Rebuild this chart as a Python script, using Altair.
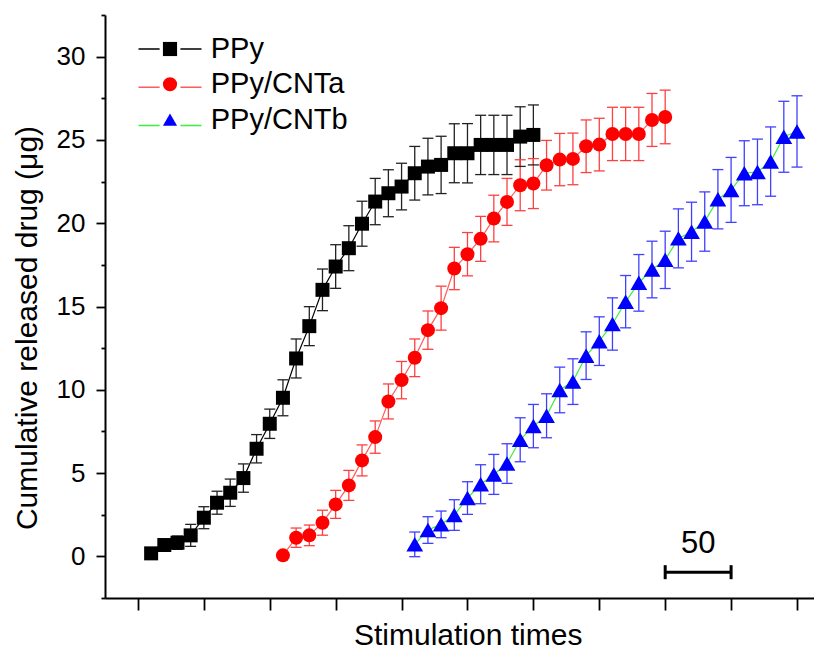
import altair as alt
import pandas as pd

FONT = "Liberation Sans"

series_names = ["PPy", "PPy/CNTa", "PPy/CNTb"]

ppy_x = [10, 20, 30, 40, 50, 60, 70, 80, 90, 100, 110, 120, 130, 140, 150,
         160, 170, 180, 190, 200, 210, 220, 230, 240, 250, 260, 270, 280, 290, 300]
ppy_y = [0.18, 0.68, 0.82, 1.26, 2.32, 3.22, 3.82, 4.70, 6.46, 7.96, 9.52, 11.88, 13.82, 16.00, 17.40,
         18.50, 19.97, 21.30, 21.80, 22.20, 23.00, 23.40, 23.50, 24.20, 24.20, 24.70, 24.70, 24.70, 25.20, 25.30]
ppy_err = [0.00, 0.10, 0.40, 0.66, 0.66, 0.69, 0.82, 0.85, 0.85, 0.88, 1.08, 1.17, 1.17, 1.25, 1.31,
           1.35, 1.35, 1.39, 1.41, 1.40, 1.61, 1.70, 1.72, 1.77, 1.78, 1.78, 1.78, 1.78, 1.79, 1.80]

cnta_x = [110, 120, 130, 140, 150, 160, 170, 180, 190, 200, 210, 220, 230, 240, 250,
          260, 270, 280, 290, 300, 310, 320, 330, 340, 350, 360, 370, 380, 390, 400]
cnta_y = [0.06, 1.12, 1.26, 2.02, 3.12, 4.26, 5.76, 7.16, 9.30, 10.58, 11.92, 13.58, 14.90, 17.28, 18.14,
          19.06, 20.28, 21.28, 22.28, 22.38, 23.48, 23.82, 23.86, 24.62, 24.72, 25.36, 25.36, 25.36, 26.20, 26.38]
cnta_err = [0.00, 0.58, 0.62, 0.75, 0.84, 0.90, 0.93, 0.97, 1.05, 1.12, 1.13, 1.15, 1.32, 1.27, 1.30,
            1.35, 1.40, 1.41, 1.53, 1.50, 1.49, 1.57, 1.55, 1.58, 1.58, 1.60, 1.60, 1.60, 1.59, 1.61]

cntb_x = [210, 220, 230, 240, 250, 260, 270, 280, 290, 300, 310, 320, 330, 340, 350,
          360, 370, 380, 390, 400, 410, 420, 430, 440, 450, 460, 470, 480, 490, 500]
cntb_y = [0.72, 1.58, 1.92, 2.48, 3.50, 4.33, 4.92, 5.57, 7.00, 7.82, 8.44, 9.99, 10.49, 12.05, 12.92,
          13.95, 15.29, 16.42, 17.22, 17.80, 19.09, 19.49, 20.10, 21.44, 22.00, 23.00, 23.08, 23.70, 25.19, 25.51]
cntb_err = [0.74, 0.80, 0.80, 0.92, 0.98, 1.17, 1.20, 1.19, 1.32, 1.30, 1.32, 1.37, 1.37, 1.43, 1.46,
            1.57, 1.57, 1.70, 1.70, 1.72, 1.77, 1.77, 1.78, 1.78, 1.95, 1.95, 1.97, 2.08, 2.13, 2.14]

x_tick_values = [0, 25, 50, 75, 100, 125, 150, 175, 200, 225, 250, 275, 300, 325, 350,
                 375, 400, 425, 450, 475, 500]
y_tick_values = [-2.5, 0, 2.5, 5, 7.5, 10, 12.5, 15, 17.5, 20, 22.5, 25, 27.5, 30, 32.5]

scale_bar = {"start": 400, "length": 50, "y": -0.95, "label": "50", "label_y": 0.72}

line_colors = ["#000000", "#ff5c5c", "#3cf03c"]
err_colors = ["#222222", "#ff4040", "#4040ff"]
fill_colors = ["#000000", "#ff0000", "#0000ff"]
shapes = ["square", "circle", "triangle-up"]
MARKER_SIZE = 196
TRIANGLE_SIZE = 280
legend_line_sizes = [3969, 3969, 3969]
LEGEND_LINE = "M-1,0H-0.33M0.33,0H1"

rows = []
for name, xs, ys, es in [("PPy", ppy_x, ppy_y, ppy_err),
                         ("PPy/CNTa", cnta_x, cnta_y, cnta_err),
                         ("PPy/CNTb", cntb_x, cntb_y, cntb_err)]:
    for xv, yv, ev in zip(xs, ys, es):
        rows.append({"series": name, "x": xv, "y": yv, "lo": yv - ev, "hi": yv + ev, "err": ev})
df = pd.DataFrame(rows)
df_err = df[df["err"] > 0]

xscale = alt.Scale(domain=[-25, 512.9], nice=False, zero=False)
yscale = alt.Scale(domain=[-2.5, 32.5], nice=False, zero=False)

x_axis = alt.Axis(
    title="Stimulation times", values=x_tick_values, labels=False, grid=False,
    tickSize={"condition": {"test": "datum.value % 50 === 0", "value": 12}, "value": 6},
    tickWidth=1.8, tickColor="black", domainColor="black", domainWidth=2,
    titleFont=FONT, titleFontSize=30, titleFontWeight="normal", titleColor="black",
    titleX=362.7, titleY=46, titleBaseline="alphabetic", titleAlign="center",
)
y_axis = alt.Axis(
    title="Cumulative released drug (μg)", values=y_tick_values, grid=False,
    labelExpr="datum.value % 5 === 0 ? format(datum.value, 'd') : ''",
    tickSize={"condition": {"test": "datum.value % 5 === 0", "value": 9}, "value": 4},
    tickWidth=1.8, tickColor="black", domainColor="black", domainWidth=2,
    labelFont=FONT, labelFontSize=26, labelColor="black", labelPadding=11,
    titleFont=FONT, titleFontSize=30, titleFontWeight="normal", titleColor="black",
    titleAngle=270, titleX=-69, titleY=312.5, titleBaseline="alphabetic", titleAlign="center",
)

X = alt.X("x:Q", scale=xscale, axis=x_axis)
Y = alt.Y("y:Q", scale=yscale, axis=y_axis)

# legend lines (with a gap for the marker), no text
line_legend = alt.Legend(
    orient="none", legendX=32.5, legendY=1.5, title=None, padding=0,
    symbolType=LEGEND_LINE, symbolStrokeWidth=1.5,
    labelFontSize=1, labelExpr="''", rowPadding=2.3,
)
# legend markers and the series names
marker_legend = alt.Legend(
    orient="none", legendX=50.5, legendY=19.5, title=None, padding=0,
    symbolSize=200, symbolStrokeWidth=0,
    labelFont=FONT, labelFontSize=29, labelColor="black", labelOffset=26.2,
    rowPadding=5.3,
)

# connecting lines, one layer per series with its own colour (no scale, no legend)
line_layers = []
for name, col in zip(series_names, line_colors):
    line_layers.append(
        alt.Chart(df).transform_filter(alt.datum.series == name)
        .mark_line(strokeWidth=1.2, color=col)
        .encode(x=X, y=Y)
    )

# carries only the line legend (no rows are drawn); colour and size share one legend
line_key = alt.Chart(df).transform_filter("false").mark_point(
    filled=False, strokeWidth=1.5, opacity=1, shape=LEGEND_LINE
).encode(
    x="x:Q", y="y:Q",
    color=alt.Color("series:N", scale=alt.Scale(domain=series_names, range=line_colors),
                    legend=line_legend),
    size=alt.Size("series:N", scale=alt.Scale(domain=series_names, range=legend_line_sizes),
                  legend=line_legend),
)

err_stroke = alt.Stroke("series:N", scale=alt.Scale(domain=series_names, range=err_colors), legend=None)

err_rules = alt.Chart(df_err).mark_rule(strokeWidth=1.3).encode(
    x="x:Q", y="lo:Q", y2="hi:Q", stroke=err_stroke,
)
caps_hi = alt.Chart(df_err).mark_rule(strokeWidth=1.3, xOffset=-5.5, x2Offset=5.5).encode(
    x="x:Q", x2="x:Q", y="hi:Q", stroke=err_stroke,
)
caps_lo = alt.Chart(df_err).mark_rule(strokeWidth=1.3, xOffset=-5.5, x2Offset=5.5).encode(
    x="x:Q", x2="x:Q", y="lo:Q", stroke=err_stroke,
)

# fill/shape scales take their domain from the data (same order), so their legend
# is kept apart from the line legend
points = alt.Chart(df).mark_point(filled=True, opacity=1, strokeWidth=0, size=MARKER_SIZE).encode(
    x="x:Q", y="y:Q",
    fill=alt.Fill("series:N", scale=alt.Scale(range=fill_colors), legend=marker_legend),
    shape=alt.Shape("series:N", scale=alt.Scale(range=shapes), legend=marker_legend),
)
# the triangles are drawn a little larger, as in the original
big_triangles = alt.Chart(df).transform_filter(alt.datum.series == series_names[2]).mark_point(
    filled=True, opacity=1, strokeWidth=0, size=TRIANGLE_SIZE, shape=shapes[2], color=fill_colors[2]
).encode(x="x:Q", y="y:Q")

sb_df = pd.DataFrame([{
    "x0": scale_bar["start"], "x1": scale_bar["start"] + scale_bar["length"],
    "xm": scale_bar["start"] + scale_bar["length"] / 2,
    "y": scale_bar["y"], "label": scale_bar["label"], "ly": scale_bar["label_y"],
}])
sb_ends = pd.DataFrame({"x": [scale_bar["start"], scale_bar["start"] + scale_bar["length"]],
                        "y": [scale_bar["y"], scale_bar["y"]]})

sb_bar = alt.Chart(sb_df).mark_rule(strokeWidth=3, color="black").encode(
    x="x0:Q", x2="x1:Q", y="y:Q")
sb_caps = alt.Chart(sb_ends).mark_rule(strokeWidth=3, color="black", yOffset=-7, y2Offset=7).encode(
    x="x:Q", y="y:Q", y2="y:Q")
sb_text = alt.Chart(sb_df).mark_text(font=FONT, fontSize=31, baseline="middle", align="center",
                                     color="black").encode(
    x="xm:Q", y="ly:Q", text="label:N")

chart = alt.layer(*line_layers, line_key, err_rules, caps_hi, caps_lo, points, big_triangles,
                  sb_bar, sb_caps, sb_text).properties(
    width=709, height=583,
    autosize=alt.AutoSizeParams(type="none"),
    padding={"left": 97, "top": 7, "right": 0, "bottom": 53},
    background="white",
).configure_view(stroke=None)

chart.save("out.html", embed_options={"renderer": "svg", "actions": False})
